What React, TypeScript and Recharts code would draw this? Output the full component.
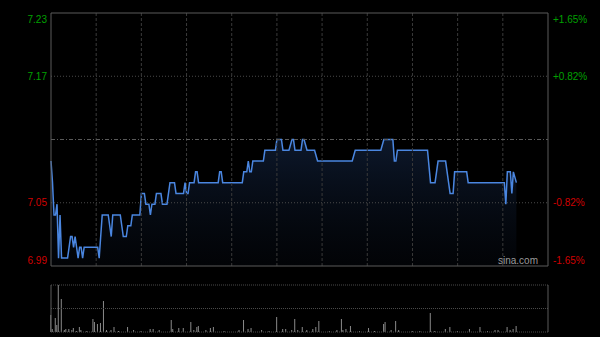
import React from 'react';
import { ComposedChart, Area, Bar, XAxis, YAxis, ReferenceLine } from 'recharts';

// previous close and the +/- percent band the chart is drawn in
const prevClose = 7.11;
const pctTicks = [-1.65, -0.825, 0, 0.825, 1.65];
const leftLabels = ['6.99', '7.05', '', '7.17', '7.23'];
const rightLabels = ['-1.65%', '-0.82%', '', '+0.82%', '+1.65%'];
const gridMinutes = [30, 60, 90, 120, 150, 180, 210, 240, 270, 300];

// intraday price, minute from the open -> price
const minutes = [
  0, 1, 2, 3, 4, 5, 6, 7, 11, 13, 14, 15, 16, 17, 18, 19, 20, 21, 22, 31,
  32, 34, 38, 40, 41, 46, 48, 50, 51, 53, 54, 59, 60, 62, 63, 65, 66, 67, 69, 70,
  73, 74, 77, 79, 82, 83, 88, 89, 90, 91, 92, 95, 96, 97, 98, 111, 112, 113, 114, 127,
  128, 130, 131, 132, 133, 134, 141, 142, 149, 150, 153, 154, 158, 160, 161, 162, 166, 167, 168, 170,
  175, 177, 200, 202, 219, 221, 227, 228, 229, 230, 250, 252, 255, 257, 262, 264, 265, 267, 268, 276,
  277, 301, 302, 303, 305, 306, 307, 309,
];
const prices = [
  7.09, 7.07, 7.04, 7.04, 7.05, 7.00, 7.04, 7.00, 7.00, 7.02, 7.02, 7.01, 7.02, 7.01, 7.00, 7.01, 7.01, 7.00, 7.01, 7.01,
  7.00, 7.04, 7.04, 7.02, 7.04, 7.04, 7.02, 7.02, 7.03, 7.03, 7.04, 7.04, 7.06, 7.06, 7.05, 7.05, 7.04, 7.05, 7.05, 7.06,
  7.06, 7.05, 7.05, 7.07, 7.07, 7.06, 7.06, 7.07, 7.06, 7.06, 7.07, 7.07, 7.08, 7.08, 7.07, 7.07, 7.08, 7.08, 7.07, 7.07,
  7.08, 7.08, 7.09, 7.08, 7.08, 7.09, 7.09, 7.10, 7.10, 7.11, 7.11, 7.10, 7.10, 7.11, 7.11, 7.10, 7.10, 7.11, 7.11, 7.10,
  7.10, 7.09, 7.09, 7.10, 7.10, 7.11, 7.11, 7.09, 7.09, 7.10, 7.10, 7.07, 7.07, 7.09, 7.09, 7.07, 7.06, 7.06, 7.08, 7.08,
  7.07, 7.07, 7.05, 7.08, 7.08, 7.06, 7.08, 7.07,
];

// volume bars, minute -> volume
const volMinutes = [
  0, 1, 3, 4, 5, 7, 9, 10, 12, 14, 15, 17, 19, 20, 24, 28, 29, 31, 33, 35,
  37, 40, 42, 45, 51, 55, 60, 66, 68, 72, 80, 81, 85, 88, 93, 95, 97, 98, 103, 106,
  108, 115, 125, 128, 131, 133, 140, 145, 150, 154, 156, 160, 162, 164, 167, 170, 174, 176, 178, 185,
  190, 193, 194, 196, 199, 205, 211, 215, 221, 222, 226, 229, 231, 240, 245, 252, 255, 262, 265, 270,
  278, 285, 290, 295, 297, 303, 305, 307, 309,
];
const volumes = [
  17, 3, 14, 7, 47, 33, 2, 3, 3, 2, 4, 1, 5, 2, 1, 13, 10, 8, 9, 31,
  2, 2, 5, 1, 5, 2, 1, 3, 3, 2, 12, 3, 4, 4, 10, 2, 5, 6, 2, 4,
  5, 1, 2, 12, 3, 4, 2, 1, 15, 3, 3, 2, 13, 2, 5, 2, 3, 5, 11, 1,
  2, 13, 2, 3, 6, 1, 4, 1, 8, 10, 2, 11, 2, 1, 1, 19, 1, 3, 5, 1,
  3, 5, 1, 2, 2, 5, 2, 3, 6,
];

const priceData = minutes.map((m, i) => ({ m, price: prices[i] }));
const volData = volMinutes.map((m, i) => ({ m, vol: volumes[i] }));
const priceTicks = pctTicks.map((p) => prevClose * (1 + p / 100));
const yMin = priceTicks[0];
const yMax = priceTicks[priceTicks.length - 1];
const volMax = Math.max(...volumes);

const FONT = '"Liberation Sans", Arial, sans-serif';
const GREEN = '#00a000';
const RED = '#d00000';
const FRAME = '#5a5a5a';

const tickIndex = (v: number) => {
  let best = 0;
  priceTicks.forEach((t, i) => {
    if (Math.abs(t - v) < Math.abs(priceTicks[best] - v)) best = i;
  });
  return best;
};

const makeTick = (labels: string[], anchor: 'start' | 'end') => (props: any) => {
  const { x, y, payload } = props;
  const i = tickIndex(payload.value);
  const label = labels[i];
  if (!label) return <g />;
  const dy = i === 0 ? -6 : i === priceTicks.length - 1 ? 6 : 0;
  return (
    <text x={x} y={y + dy} dy="0.35em" textAnchor={anchor} fontSize={10} fontFamily={FONT}
      fill={pctTicks[i] > 0 ? GREEN : RED}>
      {label}
    </text>
  );
};

export default function App() {
  return (
    <div style={{ position: 'fixed', left: 0, top: 0, width: 600, height: 337, background: '#000', overflow: 'hidden' }}>
      <div style={{ position: 'absolute', left: 0, top: 0 }}>
        <ComposedChart width={600} height={270} data={priceData} margin={{ top: 13, right: 0, bottom: 4, left: 0 }}>
          <defs>
            <linearGradient id="priceFill" x1="0" y1="0" x2="0" y2="1">
              <stop offset="0%" stopColor="#1c3560" stopOpacity={0.45} />
              <stop offset="100%" stopColor="#0a1220" stopOpacity={0.2} />
            </linearGradient>
          </defs>
          <XAxis dataKey="m" type="number" domain={[0, 330]} hide />
          <YAxis yAxisId="l" orientation="left" width={51} domain={[yMin, yMax]} ticks={priceTicks}
            interval={0} allowDataOverflow axisLine={false} tickLine={false} tickSize={0} tickMargin={4}
            tick={makeTick(leftLabels, 'end')} />
          <YAxis yAxisId="r" orientation="right" width={52} domain={[yMin, yMax]} ticks={priceTicks}
            interval={0} allowDataOverflow axisLine={false} tickLine={false} tickSize={0} tickMargin={5}
            tick={makeTick(rightLabels, 'start')} />
          {gridMinutes.map((m) => (
            <ReferenceLine key={m} yAxisId="l" x={m} stroke="#3a3a3a" strokeDasharray="3 2" />
          ))}
          <ReferenceLine yAxisId="l" y={priceTicks[1]} stroke="#4a4a4a" strokeDasharray="1 2" />
          <ReferenceLine yAxisId="l" y={priceTicks[3]} stroke="#4a4a4a" strokeDasharray="1 2" />
          <ReferenceLine yAxisId="l" y={prevClose} stroke="#5a5a5a" strokeDasharray="4 2 1 2" />
          <Area yAxisId="l" type="linear" dataKey="price" stroke="#4a86e0" strokeWidth={1.5}
            fill="url(#priceFill)" fillOpacity={1} baseValue={yMin} isAnimationActive={false} dot={false} />
          <ReferenceLine yAxisId="l" x={0} stroke={FRAME} />
          <ReferenceLine yAxisId="l" x={330} stroke={FRAME} />
          <ReferenceLine yAxisId="l" y={yMax} stroke={FRAME} />
          <ReferenceLine yAxisId="l" y={yMin} stroke={FRAME} />
        </ComposedChart>
      </div>
      <div style={{ position: 'absolute', left: 498, top: 255, fontFamily: FONT, fontSize: 10, color: '#9a9a9a' }}>
        sina.com
      </div>
      <div style={{ position: 'absolute', left: 0, top: 280 }}>
        <ComposedChart width={600} height={57} data={volData} margin={{ top: 5, right: 52, bottom: 5, left: 51 }}>
          <XAxis dataKey="m" type="number" domain={[0, 330]} hide />
          <YAxis domain={[0, volMax]} hide allowDataOverflow />
          <ReferenceLine y={volMax} stroke="#4a4a4a" strokeDasharray="1 1" />
          <ReferenceLine y={volMax / 2} stroke="#4a4a4a" strokeDasharray="1 1" />
          <ReferenceLine y={0} stroke="#4a4a4a" strokeDasharray="1 1" />
          <Bar dataKey="vol" fill="#8a8a8a" barSize={1} isAnimationActive={false} />
          <ReferenceLine x={0} stroke={FRAME} />
          <ReferenceLine x={330} stroke={FRAME} />
        </ComposedChart>
      </div>
    </div>
  );
}
